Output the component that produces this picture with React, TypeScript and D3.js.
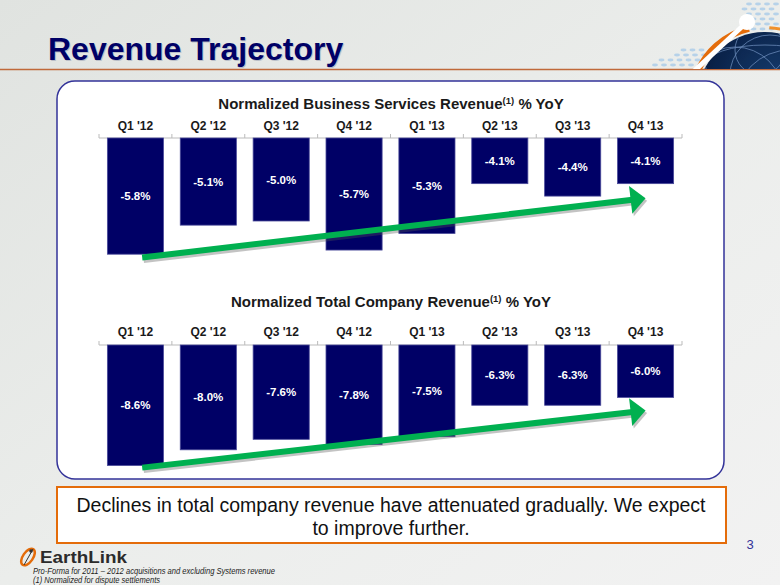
import React from "react";
import * as d3 from "d3";

const categories = ["Q1 '12", "Q2 '12", "Q3 '12", "Q4 '12", "Q1 '13", "Q2 '13", "Q3 '13", "Q4 '13"];
const bsValues = [-5.8, -5.1, -5.0, -5.7, -5.3, -4.1, -4.4, -4.1];
const tcValues = [-8.6, -8.0, -7.6, -7.8, -7.5, -6.3, -6.3, -6.0];
const bsDomain = [-3, -6];
const tcDomain = [-4, -9];

const W = 780;
const H = 585;
const NAVY = "#000066";
const GREEN = "#00b050";
const ORANGE = "#e46c0a";
const NARROW = "'Liberation Sans Narrow', 'Arial Narrow', 'Liberation Sans', Arial, sans-serif";
const SANS = "'Liberation Sans', Arial, sans-serif";

const x = d3.scaleBand<string>().domain(categories).range([99, 682]).paddingInner(0.23).paddingOuter(0.115);

function Arrow({ x1, y1, x2, y2 }: { x1: number; y1: number; x2: number; y2: number }) {
  const ang = Math.atan2(y2 - y1, x2 - x1);
  const len = 15;
  const hw = 14;
  const bx = x2 - len * Math.cos(ang);
  const by = y2 - len * Math.sin(ang);
  const px = -Math.sin(ang);
  const py = Math.cos(ang);
  const head = `M${x2},${y2} L${bx + px * hw},${by + py * hw} L${bx - px * hw},${by - py * hw} Z`;
  const lx = bx + 2 * Math.cos(ang);
  const ly = by + 2 * Math.sin(ang);
  return (
    <g>
      <g transform="translate(1.5,2.5)" opacity={0.35}>
        <line x1={x1} y1={y1} x2={lx} y2={ly} stroke="#555" strokeWidth={6} />
        <path d={head} fill="#555" />
      </g>
      <line x1={x1} y1={y1} x2={lx} y2={ly} stroke={GREEN} strokeWidth={6} />
      <path d={head} fill={GREEN} />
    </g>
  );
}

function BarChart({ values, domain, titleY, labelY, axisY, height, title, arrow }: {
  values: number[]; domain: number[]; titleY: number; labelY: number; axisY: number; height: number; title: string;
  arrow: { v1: number; v2: number };
}) {
  const y = d3.scaleLinear().domain(domain).range([axisY, axisY + height]);
  const ticks = d3.range(categories.length + 1).map((i) => 99 + i * (583 / categories.length));
  const first = categories[0];
  const last = categories[categories.length - 1];
  return (
    <g>
      <text x={391} y={titleY} textAnchor="middle" fontFamily={NARROW} fontWeight="bold" fontSize={15} fill="#1a1a1a">
        {title}
        <tspan fontSize={9.5} dy={-5}>(1)</tspan>
        <tspan dy={5}> % YoY</tspan>
      </text>
      {categories.map((c) => (
        <text key={c} x={(x(c) as number) + x.bandwidth() / 2} y={labelY} textAnchor="middle" fontFamily={NARROW} fontWeight="bold" fontSize={12} fill="#1a1a1a">
          {c}
        </text>
      ))}
      <line x1={ticks[0]} x2={ticks[ticks.length - 1]} y1={axisY} y2={axisY} stroke="#bbbbbb" strokeWidth={1} />
      {ticks.map((t, i) => (
        <line key={i} x1={t} x2={t} y1={axisY} y2={axisY - 4} stroke="#bbbbbb" strokeWidth={1} />
      ))}
      {values.map((v, i) => {
        const c = categories[i];
        const bx = x(c) as number;
        const by = y(v);
        return (
          <g key={c}>
            <rect x={bx} y={axisY} width={x.bandwidth()} height={by - axisY} fill={NAVY} stroke="#4a4a9a" strokeWidth={0.8} />
            <text x={bx + x.bandwidth() / 2} y={(axisY + by) / 2 + 4} textAnchor="middle" fontFamily={NARROW} fontWeight="bold" fontSize={11.5} fill="#ffffff">
              {v.toFixed(1)}%
            </text>
          </g>
        );
      })}
      <Arrow
        x1={(x(first) as number) + x.bandwidth() * 0.62}
        y1={y(arrow.v1)}
        x2={(x(last) as number) + x.bandwidth() / 2}
        y2={y(arrow.v2)}
      />
    </g>
  );
}

function Globe() {
  const cx = 765, cy = 100, r = 68;
  const dotsLeft: [number, number][] = [];
  for (let row = 0; row < 4; row++) {
    for (let col = 0; col < 6 - row; col++) {
      dotsLeft.push([700 - col * 9 - (row % 2) * 4.5 + row * 2, 65 - row * 5]);
    }
  }
  const dotsRight: [number, number][] = [];
  for (let row = 0; row < 6; row++) {
    for (let col = 0; col < 3 + (row < 3 ? 1 : 0); col++) {
      dotsRight.push([776 - col * 9 - (row % 2) * 4.5, 4 + row * 5]);
    }
  }
  return (
    <g>
      <defs>
        <clipPath id="globeClip">
          <rect x={600} y={0} width={200} height={69} />
        </clipPath>
        <clipPath id="globeInner">
          <circle cx={cx} cy={cy} r={r} />
        </clipPath>
        <radialGradient id="globeGrad" cx="0.6" cy="0.4" r="0.7">
          <stop offset="0" stopColor="#173e70" />
          <stop offset="1" stopColor="#06183a" />
        </radialGradient>
      </defs>
      {dotsLeft.map(([dx, dy], i) => (
        <ellipse key={"l" + i} cx={dx} cy={dy} rx={3} ry={1.4} fill="#a9cbe8" opacity={0.8} />
      ))}
      {dotsRight.map(([dx, dy], i) => (
        <ellipse key={"r" + i} cx={dx} cy={dy} rx={3} ry={1.4} fill="#a9cbe8" opacity={0.8} />
      ))}
      <g clipPath="url(#globeClip)">
        <circle cx={cx} cy={cy} r={r} fill="url(#globeGrad)" />
        <g clipPath="url(#globeInner)" fill="none" stroke="#7f9fcf" strokeWidth={0.8} opacity={0.8}>
          <circle cx={cx + 5} cy={cy - 25} r={40} />
          <circle cx={cx - 30} cy={cy - 5} r={48} />
          <circle cx={cx + 25} cy={cy + 5} r={55} />
          <circle cx={cx - 5} cy={cy - 50} r={25} />
          <ellipse cx={cx} cy={cy - 35} rx={60} ry={20} />
        </g>
        <path d={d3.arc()({ innerRadius: 70, outerRadius: 76, startAngle: -1.25, endAngle: -0.22 }) as string}
          transform={`translate(${cx},${cy})`} fill={ORANGE} />
        <path d={d3.arc()({ innerRadius: 71, outerRadius: 74, startAngle: 0.06, endAngle: 0.7 }) as string}
          transform={`translate(${cx},${cy})`} fill="#f0902a" />
        <line x1={691} y1={74} x2={747} y2={22} stroke="#ffffff" strokeWidth={5} />
      </g>
      <circle cx={747} cy={22} r={8} fill="#ffffff" />
    </g>
  );
}

export default function App() {
  return (
    <svg width={W} height={H} style={{ position: "absolute", left: 0, top: 0 }}>
      <defs>
        <linearGradient id="bg" x1="0" y1="0" x2="1" y2="1">
          <stop offset="0" stopColor="#e0e3e0" />
          <stop offset="0.5" stopColor="#ebedeb" />
          <stop offset="1" stopColor="#f2f2f2" />
        </linearGradient>
        <linearGradient id="footLine" x1="0" y1="0" x2="1" y2="0">
          <stop offset="0" stopColor="#e8671a" />
          <stop offset="0.7" stopColor="#d45f18" />
          <stop offset="1" stopColor="#9a4a14" />
        </linearGradient>
      </defs>
      <rect x={0} y={0} width={W} height={H} fill="url(#bg)" />
      <line x1={0} x2={780} y1={69.5} y2={69.5} stroke="#c0693a" strokeWidth={1.5} />
      <Globe />
      <text x={49} y={61} fontFamily={SANS} fontWeight="bold" fontSize={32} fill="#8890a8" opacity={0.45}>Revenue Trajectory</text>
      <text x={48} y={60} fontFamily={SANS} fontWeight="bold" fontSize={32} fill={NAVY}>Revenue Trajectory</text>

      <rect x={57} y={81} width={667} height={398} rx={18} ry={18} fill="#ffffff" stroke="#333399" strokeWidth={1.5} />

      <BarChart values={bsValues} domain={bsDomain} titleY={109} labelY={130} axisY={138} height={124.5}
        title="Normalized Business Services Revenue" arrow={{ v1: -5.88, v2: -4.45 }} />
      <BarChart values={tcValues} domain={tcDomain} titleY={307} labelY={336} axisY={345} height={131}
        title="Normalized Total Company Revenue" arrow={{ v1: -8.68, v2: -6.5 }} />

      <rect x={57} y={487} width={669} height={56} fill="#ffffff" stroke={ORANGE} strokeWidth={2} />
      <text x={391} y={512} textAnchor="middle" fontFamily={SANS} fontSize={19.5} fill="#111">
        Declines in total company revenue have attenuated gradually. We expect
      </text>
      <text x={391} y={535} textAnchor="middle" fontFamily={SANS} fontSize={19.5} fill="#111">to improve further.</text>
      <text x={750} y={549} textAnchor="middle" fontFamily={SANS} fontSize={13} fill="#333399">3</text>

      <line x1={142} x2={780} y1={561} y2={561} stroke="url(#footLine)" strokeWidth={3} />

      <g>
        <ellipse cx={28} cy={557} rx={9.5} ry={5} transform="rotate(-55 28 557)" fill="none" stroke={ORANGE} strokeWidth={2.5} />
        <circle cx={31} cy={551} r={1.8} fill="#333" />
        <line x1={24} y1={565} x2={33} y2={549} stroke="#333" strokeWidth={1} />
        <text x={40} y={563} fontFamily={SANS} fontWeight="bold" fontSize={17} textLength={87} lengthAdjust="spacingAndGlyphs" fill="#2b2b2b">EarthLink</text>
        <text x={33} y={573.5} fontFamily={SANS} fontStyle="italic" fontSize={8.5} textLength={242} lengthAdjust="spacingAndGlyphs" fill="#222">
          Pro-Forma for 2011 – 2012 acquisitions and excluding Systems revenue
        </text>
        <text x={33} y={583} fontFamily={SANS} fontStyle="italic" fontSize={8.5} textLength={127} lengthAdjust="spacingAndGlyphs" fill="#222">(1) Normalized for dispute settlements</text>
      </g>
    </svg>
  );
}
